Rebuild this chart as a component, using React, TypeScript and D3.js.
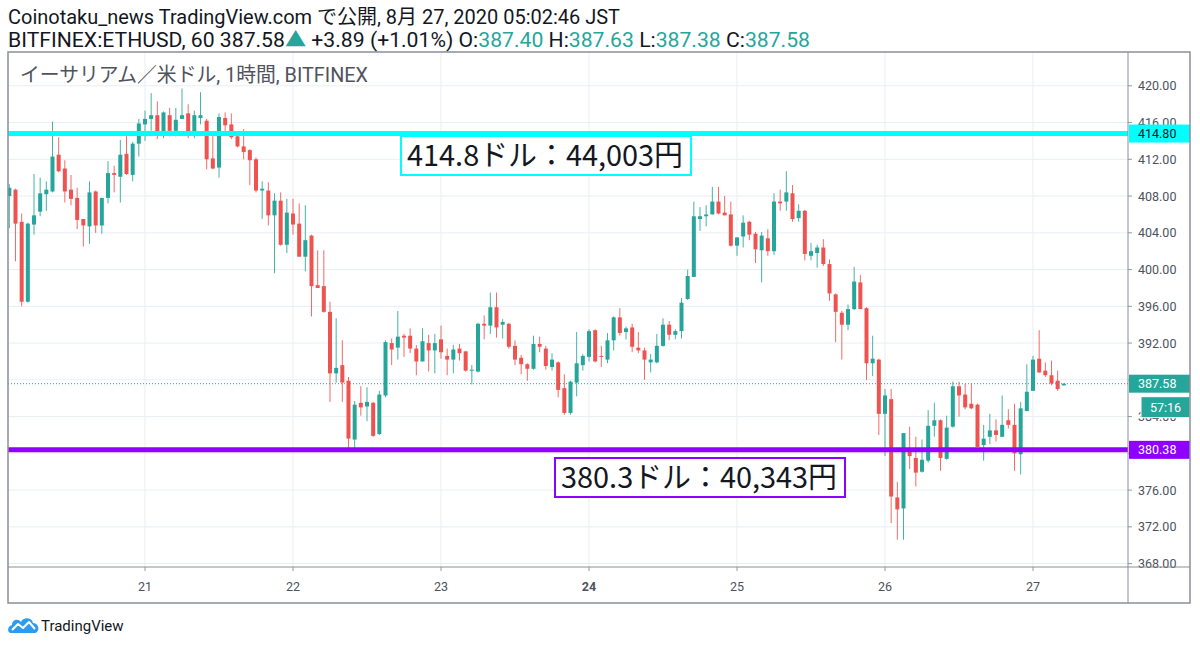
import { useMemo } from "react"
import * as d3 from "d3"

// hourly candles, first bar = Aug 20 02:00 JST
const firstBar = Date.UTC(2020, 7, 20, 2)

const open = [
  408.0, 408.7, 405.2, 396.5, 404.9, 406.3, 408.2, 408.5, 412.5, 411.0, 408.7, 407.8, 405.5, 404.7, 408.5, 404.8,
  407.8, 410.5, 410.1, 412.6, 410.3, 413.7, 415.8, 416.4, 416.8, 414.6, 416.8, 415.1, 416.4, 417.0, 414.9, 416.5,
  416.2, 412.1, 411.1, 416.5, 415.8, 414.5, 413.4, 413.0, 412.0, 408.6, 408.6, 405.9, 407.5, 402.7, 406.1, 405.0,
  401.4, 403.7, 398.3, 398.2, 395.4, 388.7, 389.6, 387.9, 381.5, 385.5, 385.1, 385.5, 382.1, 386.3, 392.0, 391.5,
  392.8, 392.8, 391.4, 390.0, 392.0, 391.2, 392.4, 390.6, 390.2, 391.4, 391.1, 389.0, 388.9, 394.1, 393.9, 395.9,
  394.0, 394.1, 391.7, 390.4, 389.7, 389.2, 391.9, 391.4, 389.4, 389.9, 387.1, 384.4, 387.7, 389.6, 390.5, 393.4,
  390.6, 390.2, 392.3, 394.8, 393.2, 393.7, 391.5, 391.2, 389.9, 389.9, 391.7, 394.0, 392.9, 393.3, 396.8, 399.2,
  405.5, 405.8, 406.0, 407.4, 406.2, 406.0, 402.6, 403.6, 405.2, 403.9, 402.1, 403.4, 402.0, 407.4, 407.4, 408.3,
  405.6, 406.4, 401.5, 401.8, 402.4, 400.6, 397.3, 395.3, 394.0, 395.7, 398.6, 395.8, 389.8, 390.2, 384.3, 385.9,
  375.2, 374.0, 380.2, 379.5, 378.0, 379.2, 383.0, 383.6, 379.4, 382.9, 387.3, 386.4, 385.4, 385.3, 380.9, 381.8,
  382.5, 381.8, 383.6, 383.1, 379.9, 384.6, 386.8, 390.3, 389.0, 388.5, 387.9, 387.4,
]
const high = [
  409.3, 408.8, 406.1, 405.1, 410.4, 410.0, 409.6, 416.1, 414.4, 411.9, 410.3, 408.9, 405.5, 409.6, 408.6, 407.8,
  411.8, 411.3, 414.1, 414.6, 413.9, 416.4, 417.3, 419.2, 418.3, 417.2, 417.6, 417.6, 419.7, 418.0, 417.3, 419.3,
  416.4, 414.7, 417.0, 417.1, 417.0, 414.6, 415.3, 413.1, 412.2, 409.6, 409.5, 408.3, 408.4, 407.7, 407.7, 407.2,
  407.0, 403.8, 402.1, 402.1, 396.5, 394.7, 392.3, 388.3, 385.7, 387.3, 387.2, 385.6, 386.8, 392.3, 392.5, 395.5,
  393.0, 393.6, 391.8, 393.6, 392.9, 393.0, 393.9, 391.4, 391.8, 391.9, 391.1, 389.6, 394.2, 395.0, 397.5, 397.5,
  394.6, 394.2, 392.3, 390.7, 389.8, 392.8, 392.7, 391.7, 390.9, 390.0, 388.6, 387.9, 393.2, 390.8, 393.5, 393.5,
  391.7, 393.1, 394.9, 395.8, 393.8, 394.1, 393.2, 391.5, 390.8, 393.0, 394.7, 394.4, 393.5, 396.9, 400.0, 407.4,
  406.8, 407.0, 409.0, 409.0, 408.0, 407.4, 403.5, 405.9, 405.3, 404.1, 404.1, 404.4, 408.3, 408.7, 410.7, 409.2,
  407.1, 406.5, 402.9, 402.7, 403.3, 401.1, 397.4, 395.5, 396.2, 400.3, 399.4, 395.9, 392.8, 390.3, 387.0, 387.0,
  376.9, 382.2, 382.9, 381.8, 381.5, 384.7, 385.5, 383.7, 384.1, 387.8, 387.8, 387.6, 387.6, 385.4, 383.1, 384.3,
  383.7, 386.3, 384.8, 385.4, 385.6, 389.7, 390.6, 393.4, 389.9, 390.1, 389.0, 387.63,
]
const low = [
  404.5, 400.9, 396.0, 396.4, 403.8, 405.8, 406.4, 408.4, 410.6, 407.3, 407.0, 404.4, 402.5, 402.8, 404.0, 403.9,
  407.2, 408.4, 407.3, 410.3, 409.6, 412.3, 414.0, 415.1, 414.2, 414.3, 414.5, 414.5, 416.4, 414.3, 414.3, 415.8,
  410.9, 410.9, 410.0, 414.6, 414.2, 413.3, 412.0, 409.2, 408.4, 405.5, 404.8, 399.6, 402.6, 401.8, 403.8, 401.4,
  399.8, 394.9, 398.0, 395.3, 385.6, 387.7, 385.6, 380.5, 380.3, 384.1, 383.5, 381.8, 382.0, 386.1, 389.6, 390.2,
  390.5, 390.9, 388.5, 390.0, 388.9, 388.7, 390.3, 388.5, 388.7, 390.1, 388.9, 387.5, 388.8, 392.4, 393.0, 392.6,
  392.5, 391.4, 389.6, 388.6, 387.9, 389.1, 391.0, 389.1, 389.0, 386.1, 384.2, 384.2, 386.2, 389.0, 390.0, 389.9,
  389.4, 389.8, 391.2, 392.8, 392.4, 391.0, 390.9, 388.0, 388.8, 389.8, 391.6, 392.3, 392.4, 392.5, 396.7, 399.2,
  404.2, 404.7, 406.0, 406.0, 405.9, 402.5, 401.5, 402.4, 403.2, 400.7, 398.6, 401.5, 401.6, 406.4, 406.4, 405.2,
  405.2, 401.0, 401.0, 400.2, 400.4, 396.6, 392.1, 390.2, 393.4, 395.6, 395.7, 388.0, 388.4, 382.0, 379.7, 372.4,
  370.6, 370.6, 378.3, 376.4, 377.9, 379.0, 381.8, 378.1, 379.3, 382.8, 384.0, 384.8, 384.8, 380.7, 379.2, 381.0,
  381.3, 381.8, 382.7, 378.1, 377.7, 384.6, 386.8, 388.8, 388.3, 387.4, 386.8, 387.38,
]
const close = [
  408.9, 405.0, 396.5, 405.0, 405.9, 408.3, 408.7, 412.3, 410.7, 408.5, 407.7, 405.4, 404.8, 408.4, 404.8, 407.8,
  410.5, 410.3, 412.5, 410.4, 413.7, 415.9, 416.4, 416.8, 414.6, 417.1, 415.1, 416.3, 416.8, 415.0, 416.8, 416.8,
  412.0, 411.0, 416.6, 415.7, 414.4, 413.4, 412.8, 411.9, 408.6, 408.8, 405.9, 407.5, 402.7, 406.2, 404.9, 401.4,
  403.2, 398.2, 398.0, 395.4, 388.7, 389.3, 387.7, 381.6, 385.3, 385.0, 385.6, 381.9, 386.4, 392.1, 391.3, 392.7,
  392.6, 391.4, 390.0, 392.2, 391.2, 392.0, 391.0, 390.2, 391.3, 390.9, 389.0, 389.1, 394.1, 393.9, 395.9, 393.7,
  394.3, 391.6, 390.2, 389.7, 389.2, 391.9, 391.6, 389.5, 390.2, 386.9, 384.4, 387.8, 389.8, 390.6, 393.3, 390.0,
  390.5, 392.3, 394.8, 393.1, 393.6, 391.6, 391.2, 390.2, 390.2, 391.7, 394.0, 392.9, 393.3, 396.4, 399.3, 405.8,
  405.8, 406.0, 407.4, 406.1, 405.9, 402.6, 403.5, 405.1, 403.8, 402.2, 403.7, 402.0, 407.4, 407.2, 408.4, 405.5,
  406.4, 401.7, 402.0, 402.4, 400.6, 397.4, 395.4, 394.0, 395.7, 398.7, 395.7, 389.8, 390.3, 384.3, 386.3, 375.3,
  373.9, 382.2, 379.7, 377.9, 379.3, 383.0, 383.6, 379.5, 382.8, 387.3, 386.3, 385.0, 384.9, 380.7, 381.6, 382.5,
  382.0, 383.1, 383.1, 380.0, 384.9, 386.7, 390.2, 388.8, 388.5, 387.6, 387.0, 387.58,
]

const priceTicks = d3.range(368, 421, 4)
// scale labels that sit fully under a price tag are not drawn
const hiddenTicks = [380, 388]
const levels = [
  { price: 414.8, color: "#00ffff", text: "#131722", label: "414.80", note: "414.8ドル：44,003円", box: [401, 136] },
  { price: 380.38, color: "#9000ff", text: "#ffffff", label: "380.38", note: "380.3ドル：40,343円", box: [555, 458] },
]
const lastPrice = 387.58
const countdown = "57:16"

const UP = "#26a69a"
const DOWN = "#ef5350"
const GRID = "#e9eef4"
const AXIS_TEXT = "#4c525e"
const FONT = "Roboto, 'Noto Sans CJK JP', sans-serif"

export default function App() {
  const left = 8
  const right = 1128
  const top = 52
  const bottom = 567

  const x = d3.scaleUtc().domain([Date.UTC(2020, 7, 21), Date.UTC(2020, 7, 27)]).range([145, 1033])
  const y = d3.scaleLinear().domain([368, 420]).range([563.6, 85.8])

  const bars = useMemo(
    () =>
      open.map((o, i) => ({
        t: new Date(firstBar + i * 3600 * 1000),
        o,
        h: high[i],
        l: low[i],
        c: close[i],
      })),
    []
  )

  const days = x.ticks(d3.utcDay.every(1)!)
  const bodyW = 4

  return (
    <svg
      width={1200}
      height={647}
      style={{ position: "absolute", left: 0, top: 0, background: "#fff" }}
      fontFamily={FONT}
    >
      <defs>
        <clipPath id="plot">
          <rect x={left} y={top} width={right - left} height={bottom - top} />
        </clipPath>
      </defs>
      <rect width={1200} height={647} fill="#fff" />

      {/* header */}
      <text x={8} y={24} fontSize={20} fill="#131722" textLength={612} lengthAdjust="spacingAndGlyphs">
        Coinotaku_news TradingView.com で公開, 8月 27, 2020 05:02:46 JST
      </text>
      <text x={8} y={47} fontSize={20} fill="#131722" textLength={802} lengthAdjust="spacingAndGlyphs">
        <tspan>BITFINEX:ETHUSD, 60 387.58</tspan>
        <tspan fill={UP}>▲</tspan>
        <tspan> +3.89 (+1.01%) O:</tspan>
        <tspan fill={UP}>387.40</tspan>
        <tspan> H:</tspan>
        <tspan fill={UP}>387.63</tspan>
        <tspan> L:</tspan>
        <tspan fill={UP}>387.38</tspan>
        <tspan> C:</tspan>
        <tspan fill={UP}>387.58</tspan>
      </text>

      {/* grid */}
      <g stroke={GRID} strokeWidth={1}>
        {priceTicks.map((p) => (
          <line key={p} x1={left} x2={right} y1={y(p)} y2={y(p)} />
        ))}
        {days.map((d) => (
          <line key={+d} x1={x(d)} x2={x(d)} y1={top} y2={bottom} />
        ))}
      </g>

      <text x={20} y={82} fontSize={20} fill="#50535e" textLength={348} lengthAdjust="spacingAndGlyphs">
        イーサリアム／米ドル, 1時間, BITFINEX
      </text>

      {/* candles */}
      <g clipPath="url(#plot)">
        {bars.map((b) => {
          const cx = x(b.t)
          const col = b.c >= b.o ? UP : DOWN
          const y0 = y(Math.max(b.o, b.c))
          const y1 = y(Math.min(b.o, b.c))
          return (
            <g key={+b.t}>
              <line x1={cx} x2={cx} y1={y(b.h)} y2={y(b.l)} stroke={col} strokeWidth={1} opacity={0.85} />
              <rect x={cx - bodyW / 2} y={y0} width={bodyW} height={Math.max(1, y1 - y0)} fill={col} />
            </g>
          )
        })}
        <line
          x1={left}
          x2={right}
          y1={y(lastPrice)}
          y2={y(lastPrice)}
          stroke={UP}
          strokeWidth={1}
          strokeDasharray="1 2"
        />
        {levels.map((lv) => (
          <line key={lv.label} x1={left} x2={right} y1={y(lv.price)} y2={y(lv.price)} stroke={lv.color} strokeWidth={5} />
        ))}
      </g>

      {/* notes */}
      {levels.map((lv) => (
        <g key={lv.note}>
          <rect x={lv.box[0]} y={lv.box[1]} width={290} height={39} fill="#fff" stroke={lv.color} strokeWidth={2} />
          <text
            x={lv.box[0] + 6}
            y={lv.box[1] + 30}
            fontSize={29}
            fill="#131722"
            fontFamily="'Noto Sans CJK JP', sans-serif"
            textLength={276}
            lengthAdjust="spacingAndGlyphs"
          >
            {lv.note}
          </text>
        </g>
      ))}

      {/* price scale */}
      <g fontSize={12.5} fill={AXIS_TEXT}>
        {priceTicks.map((p) => (
          <g key={p}>
            <line x1={right} x2={right + 4} y1={y(p)} y2={y(p)} stroke="#9598a1" />
            {!hiddenTicks.includes(p) && (
              <text x={1138} y={y(p) + 4.5}>
                {p.toFixed(2)}
              </text>
            )}
          </g>
        ))}
      </g>
      {levels.map((lv) => (
        <g key={lv.label + "tag"}>
          <rect x={right + 1} y={y(lv.price) - 9} width={61} height={18} fill={lv.color} />
          <text x={1138} y={y(lv.price) + 4.5} fontSize={12.5} fill={lv.text}>
            {lv.label}
          </text>
        </g>
      ))}
      <rect x={right + 1} y={y(lastPrice) - 9} width={61} height={18} fill={UP} />
      <text x={1138} y={y(lastPrice) + 4.5} fontSize={12.5} fill="#fff">
        {lastPrice.toFixed(2)}
      </text>
      <rect x={1141} y={y(lastPrice) + 13} width={49} height={21} fill={UP} stroke="#fff" strokeWidth={1} />
      <text x={1165.5} y={y(lastPrice) + 28} fontSize={12.5} fill="#fff" textAnchor="middle">
        {countdown}
      </text>

      {/* time scale */}
      <g fontSize={12.5} fill={AXIS_TEXT} textAnchor="middle">
        {days.map((d) => (
          <g key={+d}>
            <line x1={x(d)} x2={x(d)} y1={bottom} y2={bottom + 4} stroke="#9598a1" />
            <text x={x(d)} y={591} fontWeight={d.getUTCDate() === 24 ? "bold" : "normal"}>
              {d3.utcFormat("%-d")(d)}
            </text>
          </g>
        ))}
      </g>

      {/* frame */}
      <g fill="none" stroke="#8a8e99">
        <rect x={left} y={top} width={1190 - left} height={603 - top} strokeWidth={1.5} />
        <line x1={right} x2={right} y1={top} y2={603} />
        <line x1={left} x2={1190} y1={bottom} y2={bottom} />
      </g>

      {/* logo */}
      <g transform="translate(8,616)">
        <path
          d="M3 17 C-1 17 -1 10 4 9 C4 4 10 2 13 6 C15 1 24 1 25 7 C30 7 32 13 29 16 C28 17 27 17 26 17 Z"
          fill="#2d9cf0"
        />
        <polyline points="4,14 10,8 15,12 21,6 27,13" fill="none" stroke="#fff" strokeWidth={2} strokeLinejoin="round" />
      </g>
      <text x={41} y={631} fontSize={15} fill="#131722">
        TradingView
      </text>
    </svg>
  )
}
